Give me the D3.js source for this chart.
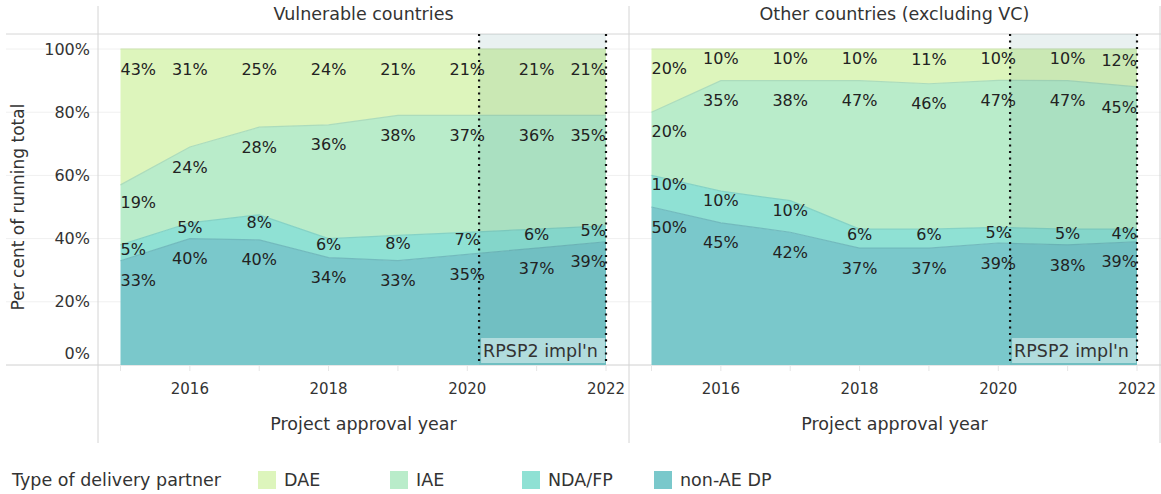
<!DOCTYPE html>
<html>
<head>
<meta charset="utf-8">
<script src="https://cdn.jsdelivr.net/npm/d3@7"></script>
<style>
  body { margin: 0; background: #fff; }
  svg { font-family: "DejaVu Sans", sans-serif; fill: #333; }
</style>
</head>
<body>
<svg width="1161" height="494"></svg>
<script>
// data
const years = [2015, 2016, 2017, 2018, 2019, 2020, 2021, 2022];
const partnerTypes = ["non-AE DP", "NDA/FP", "IAE", "DAE"]; // bottom to top
const legendOrder = ["DAE", "IAE", "NDA/FP", "non-AE DP"];
const panelTitles = ["Vulnerable countries", "Other countries (excluding VC)"];

const vcNonAE = [33, 40, 40, 34, 33, 35, 37, 39];
const vcNDA   = [5, 5, 8, 6, 8, 7, 6, 5];
const vcIAE   = [19, 24, 28, 36, 38, 37, 36, 35];
const vcDAE   = [43, 31, 25, 24, 21, 21, 21, 21];

const ocNonAE = [50, 45, 42, 37, 37, 39, 38, 39];
const ocNDA   = [10, 10, 10, 6, 6, 5, 5, 4];
const ocIAE   = [20, 35, 38, 47, 46, 47, 47, 45];
const ocDAE   = [20, 10, 10, 10, 11, 10, 10, 12];

const yTicks = [0, 0.2, 0.4, 0.6, 0.8, 1];
const xTicks = [2016, 2018, 2020, 2022];
const rpspPeriod = [2020.17, 2022];
const rpspLabel = "RPSP2 impl'n";

const colors = {
  "DAE": "#ddf5bc",
  "IAE": "#b9ecca",
  "NDA/FP": "#8fe1d4",
  "non-AE DP": "#7ac8cb"
};

function toRows(nonAE, nda, iae, dae) {
  return years.map((yr, i) => ({
    year: yr, "non-AE DP": nonAE[i], "NDA/FP": nda[i], "IAE": iae[i], "DAE": dae[i]
  }));
}
const panels = [
  { title: panelTitles[0], rows: toRows(vcNonAE, vcNDA, vcIAE, vcDAE), x0: 98 },
  { title: panelTitles[1], rows: toRows(ocNonAE, ocNDA, ocIAE, ocDAE), x0: 629 }
];

const svg = d3.select("svg");
const width = +svg.attr("width");
const paneW = 531;
const headerY = 34;
const y = d3.scaleLinear().domain([0, 1]).range([365, 49]);
const pct = d3.format(".0%");

// frame lines
svg.append("line").attr("x1", 6).attr("x2", width).attr("y1", headerY).attr("y2", headerY)
  .attr("stroke", "#d6d6d6");

yTicks.forEach(t => {
  svg.append("line").attr("x1", 6).attr("x2", width)
    .attr("y1", y(t)).attr("y2", y(t))
    .attr("stroke", t === 0 ? "#d0d0d0" : "#f0f0f0");
});

// y axis
const yLab = svg.append("g").attr("font-size", 16);
yTicks.forEach(t => {
  yLab.append("text")
    .attr("x", 90)
    .attr("y", t === 0 ? y(t) - 12 : y(t))
    .attr("dy", "0.35em")
    .attr("text-anchor", "end")
    .text(pct(t));
});
svg.append("text")
  .attr("transform", `translate(24, ${(y(0) + y(1)) / 2}) rotate(-90)`)
  .attr("text-anchor", "middle")
  .attr("font-size", 17)
  .text("Per cent of running total");

const stack = d3.stack().keys(partnerTypes).offset(d3.stackOffsetExpand);

panels.forEach(p => {
  const x = d3.scaleLinear().domain([2015, 2022]).range([p.x0 + 22.5, p.x0 + 508]);
  const g = svg.append("g");

  g.append("text")
    .attr("x", p.x0 + paneW / 2).attr("y", 20)
    .attr("text-anchor", "middle").attr("font-size", 17.5)
    .text(p.title);

  const series = stack(p.rows);
  const area = d3.area().x(d => x(d.data.year)).y0(d => y(d[0])).y1(d => y(d[1]));
  const line = d3.line().x(d => x(d.data.year)).y(d => y(d[1]));

  g.selectAll(".area").data(series).join("path")
    .attr("d", area)
    .attr("fill", s => colors[s.key]);
  g.selectAll(".edge").data(series).join("path")
    .attr("d", line)
    .attr("fill", "none")
    .attr("stroke", s => d3.color(colors[s.key]).darker(0.2))
    .attr("stroke-width", 1.2);

  // RPSP2 band
  const bx0 = x(rpspPeriod[0]), bx1 = x(rpspPeriod[1]);
  g.append("rect")
    .attr("x", bx0).attr("width", bx1 - bx0)
    .attr("y", headerY).attr("height", y(0) - headerY)
    .attr("fill", "rgb(40,120,120)").attr("opacity", 0.1);
  g.append("rect")
    .attr("x", bx0 + 2).attr("width", bx1 - bx0 - 3)
    .attr("y", y(0) - 27).attr("height", 25)
    .attr("fill", "#fff").attr("opacity", 0.45);
  g.append("text")
    .attr("x", bx0 + 4).attr("y", y(0) - 8.5)
    .attr("font-size", 17.5)
    .text(rpspLabel);
  [bx0, bx1].forEach(bx => {
    g.append("line")
      .attr("x1", bx).attr("x2", bx).attr("y1", headerY).attr("y2", y(0))
      .attr("stroke", "#111").attr("stroke-width", 2.2)
      .attr("stroke-dasharray", "2,4.5");
  });

  // value labels
  series.forEach(s => {
    s.forEach((d, i) => {
      const top = y(d[1]);
      const band = y(d[0]) - y(d[1]);
      const off = Math.min(20, band * 0.3);
      g.append("text")
        .attr("x", x(d.data.year))
        .attr("y", top + off)
        .attr("dy", "0.35em")
        .attr("font-size", 16)
        .attr("fill", "#222")
        .attr("text-anchor", i === 0 ? "start" : i === s.length - 1 ? "end" : "middle")
        .text(d.data[s.key] + "%");
    });
  });

  // x axis
  years.forEach(yr => {
    g.append("line").attr("x1", x(yr)).attr("x2", x(yr))
      .attr("y1", y(0) + 1).attr("y2", y(0) + 6).attr("stroke", "#e6e6e6");
  });
  xTicks.forEach(t => {
    g.append("text")
      .attr("x", x(t)).attr("y", 389).attr("dy", "0.35em")
      .attr("text-anchor", "middle").attr("font-size", 15)
      .text(t);
  });
  g.append("text")
    .attr("x", p.x0 + paneW / 2).attr("y", 424).attr("dy", "0.35em")
    .attr("text-anchor", "middle").attr("font-size", 17.5)
    .text("Project approval year");
});

// pane dividers
[98, 629, 1160].forEach(px => {
  svg.append("line").attr("x1", px).attr("x2", px).attr("y1", 6).attr("y2", 443)
    .attr("stroke", "#d4d4d4");
});

// legend
const legend = svg.append("g").attr("font-size", 17.5);
legend.append("text").attr("x", 12).attr("y", 480).attr("dy", "0.35em")
  .text("Type of delivery partner");
legendOrder.forEach((k, i) => {
  const lx = 258 + i * 132;
  legend.append("rect").attr("x", lx).attr("y", 471).attr("width", 18).attr("height", 18)
    .attr("fill", colors[k]);
  legend.append("text").attr("x", lx + 26).attr("y", 480).attr("dy", "0.35em").text(k);
});
</script>
</body>
</html>
